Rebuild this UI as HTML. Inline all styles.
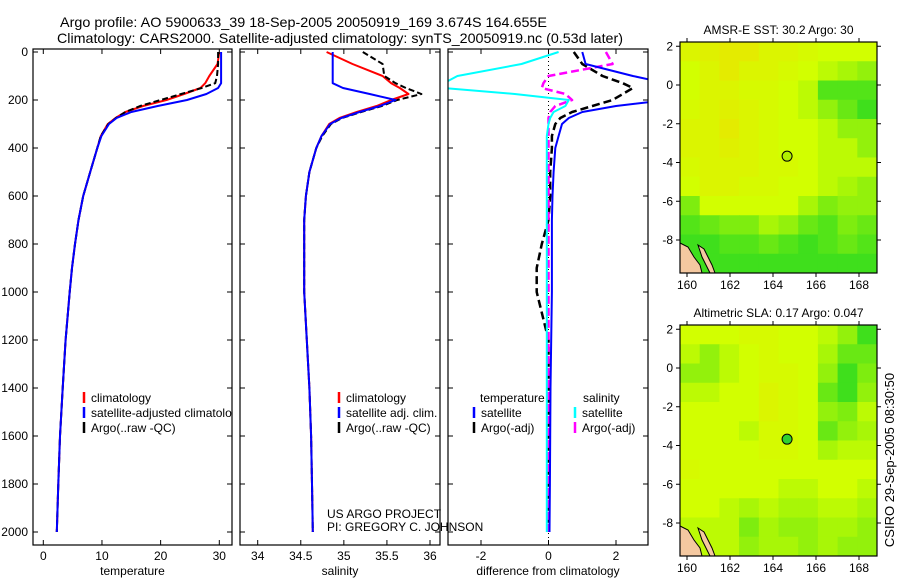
<!DOCTYPE html>
<html><head><meta charset="utf-8"><style>
body{margin:0;background:#fff}
svg{display:block;font-family:"Liberation Sans",sans-serif}
</style></head><body>
<svg id="fig" width="900" height="580" xmlns="http://www.w3.org/2000/svg">
<rect width="900" height="580" fill="#fff"/>
<text x="60" y="27" font-size="14" textLength="487" lengthAdjust="spacingAndGlyphs">Argo profile: AO 5900633_39 18-Sep-2005 20050919_169 3.674S 164.655E</text>
<text x="57" y="43" font-size="14" textLength="566" lengthAdjust="spacingAndGlyphs">Climatology: CARS2000. Satellite-adjusted climatology: synTS_20050919.nc (0.53d later)</text>
<text transform="translate(894,460) rotate(-90)" text-anchor="middle" font-size="13">CSIRO 29-Sep-2005 08:30:50</text>
<g id="g"></g>
</svg>
<script>
// ---- data ----
const depths = [0,50,100,130,150,175,200,225,250,275,300,350,400,500,600,700,800,900,1000,1200,1400,1600,1800,2000];
const tempClim = [30,29.7,28.3,27.6,26.8,24,21,17,14,12.3,11,9.8,9.2,8.0,6.8,6.0,5.4,4.9,4.5,3.8,3.3,2.85,2.55,2.3];
const tempSat  = [30.3,30.3,30.3,30.3,29.8,27.8,24.5,19.5,15,12.5,11.2,9.9,9.2,8.0,6.8,6.0,5.4,4.9,4.5,3.8,3.3,2.85,2.55,2.3];
const tempArgo = [29.8,29.8,29.6,29.3,27,23.5,20,16.5,14,12.4,11.1,9.8,9.2,8.0,6.8,6.0,5.4,4.9,4.5,3.8,3.3,2.85,2.55,2.3];
const salClim  = [34.8,35.1,35.45,35.55,35.65,35.75,35.55,35.38,35.15,34.95,34.83,34.74,34.68,34.6,34.56,34.54,34.54,34.54,34.54,34.57,34.6,34.62,34.63,34.64];
const salSat   = [34.87,34.87,34.87,34.87,34.99,35.3,35.6,35.42,35.18,34.97,34.84,34.74,34.68,34.6,34.56,34.54,34.54,34.54,34.54,34.57,34.6,34.62,34.63,34.64];
const salArgo  = [35.22,35.45,35.47,35.6,35.72,35.9,35.62,35.44,35.2,34.98,34.85,34.75,34.68,34.6,34.56,34.54,34.54,34.54,34.54,34.57,34.6,34.62,34.63,34.64];
const diffTempSat  = [1.0,1.1,2.5,3.5,4,4,3.5,2.0,1.0,0.6,0.4,0.3,0.2,0.15,0.12,0.1,0.1,0.1,0.1,0.08,0.06,0.05,0.04,0.03];
const diffTempArgo = [0.75,1.0,1.6,2.2,2.5,2.2,1.9,1.3,0.7,0.35,0.2,0.1,0.1,0.05,0.05,0.0,-0.2,-0.35,-0.35,0.0,0.0,0.0,0.0,0.0];
const diffSalSat   = [0.3,-0.8,-2.7,-3.1,-3.1,-1.0,0.6,0.5,0.15,0.05,0.0,-0.05,-0.05,-0.05,-0.05,-0.05,-0.05,-0.05,-0.05,-0.05,-0.05,-0.05,-0.05,-0.05];
const diffSalArgo  = [1.7,1.9,0.0,-0.15,-0.2,0.5,0.7,0.2,0.05,0.0,0.0,0.0,0.0,0.0,0.0,0.0,0.0,0.0,0.0,0.0,0.0,0.0,0.0,0.0];
const depthTicks = [0,200,400,600,800,1000,1200,1400,1600,1800,2000];
const tempTicks = [0,10,20,30];
const salTicks = [34,34.5,35,35.5,36];
const salTickLabels = ["34","34.5","35","35.5","36"];
const diffTicks = [-2,0,2];
const lonTicks = [160,162,164,166,168];
const latTicks = [2,0,-2,-4,-6,-8];
const sstGrid = [
[.4,.35,.3,.3,.4,.4,.45,.5,.5,.5],
[.5,.4,.3,.4,.4,.45,.5,.55,.6,.65],
[.5,.4,.4,.45,.45,.5,.55,.8,.8,.8],
[.45,.4,.35,.4,.45,.5,.55,.65,.75,.85],
[.4,.4,.3,.4,.45,.5,.5,.55,.65,.65],
[.4,.4,.35,.4,.45,.5,.5,.55,.55,.65],
[.45,.4,.4,.4,.45,.45,.5,.55,.55,.55],
[.5,.4,.4,.45,.45,.5,.5,.55,.6,.65],
[.7,.5,.5,.5,.5,.5,.6,.7,.65,.65],
[.8,.75,.7,.7,.6,.65,.75,.8,.7,.75],
[.85,.85,.8,.8,.75,.8,.85,.8,.75,.8],
[.85,.85,.85,.85,.85,.85,.85,.85,.85,.85]];
const slaGrid = [
[.5,.5,.5,.45,.45,.5,.5,.55,.65,.85],
[.55,.65,.55,.5,.45,.5,.5,.6,.75,.75],
[.65,.65,.55,.5,.45,.45,.5,.65,.85,.7],
[.55,.55,.5,.5,.4,.45,.5,.75,.85,.65],
[.5,.5,.5,.5,.4,.45,.5,.65,.7,.55],
[.5,.5,.5,.55,.45,.45,.5,.75,.65,.6],
[.5,.5,.5,.5,.45,.45,.5,.6,.55,.55],
[.45,.5,.5,.5,.5,.5,.5,.5,.5,.5],
[.5,.5,.5,.5,.5,.55,.55,.5,.5,.55],
[.5,.5,.55,.6,.55,.6,.6,.55,.55,.6],
[.55,.55,.55,.7,.6,.65,.65,.6,.6,.65],
[.55,.55,.55,.65,.6,.6,.65,.6,.65,.65]];
const argoLon = 164.655, argoLat = -3.674;

const NS="http://www.w3.org/2000/svg";
const G=document.getElementById('g');
function mk(tag,attrs,parent){const e=document.createElementNS(NS,tag);for(const k in attrs)e.setAttribute(k,attrs[k]);(parent||G).appendChild(e);return e;}
function lin(d0,d1,r0,r1){return v=>r0+(v-d0)*(r1-r0)/(d1-d0);}
const yD = lin(0,2000,52,532);
const TOP=49,BOT=545;

function panel(name,x0,x1,xs,ticks,labels,xlabel){
  const g=mk('g',{});
  
  
  const clip=mk('clipPath',{id:'c'+name},g);
  mk('rect',{x:x0,y:TOP,width:x1-x0,height:BOT-TOP},clip);
  const plot=mk('g',{'clip-path':'url(#c'+name+')'},g);
  const frame=mk('rect',{x:x0,y:TOP,width:x1-x0,height:BOT-TOP,fill:'none',stroke:'#000','stroke-width':1.2},g);
  
  
  ticks.forEach((t,i)=>{const x=xs(t);
    mk('line',{x1:x,x2:x,y1:BOT,y2:BOT-5,stroke:'#000'},g);
    mk('line',{x1:x,x2:x,y1:TOP,y2:TOP+5,stroke:'#000'},g);
    const tx=mk('text',{x:x,y:BOT+15,'font-size':12,'text-anchor':'middle'},g);tx.textContent=labels[i];
    
    
  });
  depthTicks.forEach(d=>{const y=yD(d);
    mk('line',{x1:x0,x2:x0+5,y1:y,y2:y,stroke:'#000'},g);
    mk('line',{x1:x1,x2:x1-5,y1:y,y2:y,stroke:'#000'},g);
  });
  const xl=mk('text',{x:(x0+x1)/2,y:575,'font-size':12,'text-anchor':'middle'},g);xl.textContent=xlabel;
  
  
  return plot;
}
function series(plot,xs,vals,color,dash,w,name){
  const pts=vals.map((v,i)=>xs(v).toFixed(1)+','+yD(depths[i]).toFixed(1)).join(' ');
  const p=mk('polyline',{points:pts,fill:'none',stroke:color,'stroke-width':w,'stroke-dasharray':dash||'none','stroke-linejoin':'round'},plot);
  
  
}
function legend(x,y,items,parent){
  items.forEach((it,i)=>{
    mk('line',{x1:x,x2:x,y1:y+i*15-10,y2:y+i*15+1,stroke:it[1],'stroke-width':2.5},parent);
    const t=mk('text',{x:x+7,y:y+i*15,'font-size':12},parent);t.textContent=it[0];
    
    
  });
}
depthTicks.forEach(d=>{const t=mk('text',{x:28,y:yD(d)+4,'font-size':12,'text-anchor':'end'});t.textContent=d;
  
  });

const xT=lin(0,30,43.3,219.3);
let p=panel('temperature-panel',33,232,xT,tempTicks,tempTicks.map(String),'temperature');
series(p,xT,tempClim,'#f00','',2,'temp-climatology-line');
series(p,xT,tempArgo,'#000','6,3',2,'temp-argo-line');
series(p,xT,tempSat,'#00f','',2,'temp-satellite-line');
legend(84,402,[['climatology','#f00'],['satellite-adjusted climatology','#00f'],['Argo(..raw -QC)','#000']],p);
const xS=lin(34,36,257.7,430);
p=panel('salinity-panel',240,440,xS,salTicks,salTickLabels,'salinity');
series(p,xS,salClim,'#f00','',2,'sal-climatology-line');
series(p,xS,salArgo,'#000','6,3',2,'sal-argo-line');
series(p,xS,salSat,'#00f','',2,'sal-satellite-line');
legend(339,402,[['climatology','#f00'],['satellite adj. clim.','#00f'],['Argo(..raw -QC)','#000']]);
const xDf=lin(-2,2,481,616);
p=panel('difference-panel',448,648,xDf,diffTicks,diffTicks.map(String),'difference from climatology');
mk('line',{x1:xDf(0),x2:xDf(0),y1:TOP,y2:BOT,stroke:'#000','stroke-dasharray':'1,3'},p);
series(p,xDf,diffTempArgo,'#000','8,4',2.5,'diff-temp-argo-line');
series(p,xDf,diffSalArgo,'#f0f','8,4',2.5,'diff-sal-argo-line');
series(p,xDf,diffTempSat,'#00f','',2,'diff-temp-satellite-line');
series(p,xDf,diffSalSat,'#0ff','',2,'diff-sal-satellite-line');
const th=mk('text',{x:480,y:402,'font-size':12});th.textContent='temperature';

const sh=mk('text',{x:583,y:402,'font-size':12});sh.textContent='salinity';

legend(474,417,[['satellite','#00f'],['Argo(-adj)','#000']]);
legend(575,417,[['satellite','#0ff'],['Argo(-adj)','#f0f']]);
const pr1=mk('text',{x:327,y:518,'font-size':12});pr1.textContent='US ARGO PROJECT';

const pr2=mk('text',{x:327,y:531,'font-size':12});pr2.textContent='PI: GREGORY C. JOHNSON';


// ---- maps ----
function color(v){
  let r,g,b;
  if(v<0.5){const t=v/0.5;r=255+(210-255)*t;g=205+(255-205)*t;b=0;}
  else{const t=(v-0.5)/0.5;r=210+(0-210)*t;g=255+(210-255)*t;b=0+40*t;}
  return `rgb(${r|0},${g|0},${b|0})`;
}
function map(name,title,top,grid,markFill){
  const L=680,R=877,B=top+231;
  const xl=lin(160,168,687,859), yl=lin(0,-8,top+43,top+198);
  const g=mk('g',{});
  
  
  const rows=grid.length,cols=grid[0].length;
  const cw=(R-L)/cols,ch=(B-top)/rows;
  grid.forEach((row,i)=>row.forEach((v,j)=>{
    const c=mk('rect',{x:L+j*cw,y:top+i*ch,width:cw+0.5,height:ch+0.5,fill:color(v)},g);
    
    
  }));
  const land=mk('path',{d:`M${L} ${B-30} L${L+8} ${B-26} L${L+14} ${B-16} L${L+20} ${B-8} L${L+22} ${B} L${L} ${B} Z M${L+18} ${B-28} L${L+24} ${B-24} L${L+32} ${B-8} L${L+35} ${B} L${L+30} ${B} L${L+22} ${B-16} Z`,fill:'#f4c8a0',stroke:'#000','stroke-width':1},g);
  
  
  mk('rect',{x:L,y:top,width:R-L,height:B-top,fill:'none',stroke:'#000','stroke-width':1.2},g);
  lonTicks.forEach(t=>{const x=xl(t);
    mk('line',{x1:x,x2:x,y1:B,y2:B+4,stroke:'#000'},g);mk('line',{x1:x,x2:x,y1:top,y2:top-4,stroke:'#000'},g);
    const tx=mk('text',{x:x,y:B+16,'font-size':12,'text-anchor':'middle'},g);tx.textContent=t;
    });
  latTicks.forEach(t=>{const y=yl(t);
    mk('line',{x1:L,x2:L-4,y1:y,y2:y,stroke:'#000'},g);mk('line',{x1:R,x2:R+4,y1:y,y2:y,stroke:'#000'},g);
    const tx=mk('text',{x:L-7,y:y+4,'font-size':12,'text-anchor':'end'},g);tx.textContent=t;
    });
  const m=mk('circle',{cx:xl(argoLon),cy:yl(argoLat),r:5,fill:markFill,stroke:'#000','stroke-width':1},g);
  
  const tt=mk('text',{x:(L+R)/2,y:top-8,'font-size':12,'text-anchor':'middle'},g);tt.textContent=title;
  
}
map('sst-map','AMSR-E SST: 30.2 Argo: 30',42,sstGrid,'#b0f000');
map('sla-map','Altimetric SLA: 0.17 Argo: 0.047',325,slaGrid,'#30d030');
</script>
</body></html>
